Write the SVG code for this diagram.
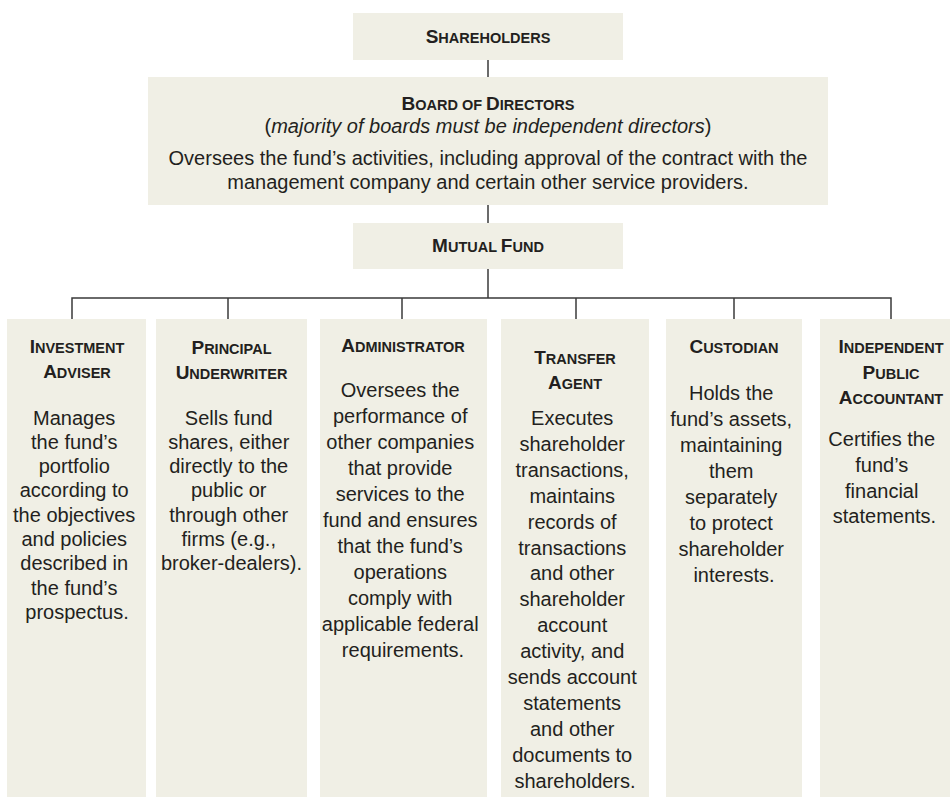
<svg xmlns="http://www.w3.org/2000/svg" width="952" height="798" viewBox="0 0 952 798">
  <style>
    .box { fill: #f0efe5; }
    .wire { stroke: #3a3a3a; stroke-width: 1.5; fill: none; }
    text { font-family: "Liberation Sans", Arial, Helvetica, sans-serif; fill: #231f20; text-anchor: middle; }
    .hd { font-size: 14.5px; font-weight: bold; }
    .cap { font-size: 19px; }
    .body { font-size: 20px; }
    .it { font-style: italic; }
  </style>

  <!-- connectors -->
  <g id="connectors">
    <path class="wire" d="M488 60 V77"/>
    <path class="wire" d="M488 205 V223"/>
    <path class="wire" d="M488 269 V298"/>
    <path class="wire" d="M72 319 V298 H891 V319"/>
    <path class="wire" d="M228 298 V319"/>
    <path class="wire" d="M402 298 V319"/>
    <path class="wire" d="M576 298 V319"/>
    <path class="wire" d="M734 298 V319"/>
  </g>

  <g id="shareholders">
    <rect class="box" x="353" y="13" width="270" height="47"/>
    <text class="hd" x="488" y="42.5"><tspan class="cap">S</tspan>HAREHOLDERS</text>
  </g>

  <g id="board">
    <rect class="box" x="148" y="77" width="680" height="128"/>
    <text class="hd" x="488" y="110"><tspan class="cap">B</tspan>OARD OF <tspan class="cap">D</tspan>IRECTORS</text>
    <text class="body" x="488" y="133">(<tspan class="it">majority of boards must be independent directors</tspan>)</text>
    <text class="body" x="488" y="165">Oversees the fund’s activities, including approval of the contract with the</text>
    <text class="body" x="488" y="189">management company and certain other service providers.</text>
  </g>

  <g id="mutual-fund">
    <rect class="box" x="353" y="223" width="270" height="46"/>
    <text class="hd" x="488" y="252"><tspan class="cap">M</tspan>UTUAL <tspan class="cap">F</tspan>UND</text>
  </g>

  <g id="investment-adviser">
    <rect class="box" x="7" y="319" width="139" height="478"/>
    <text class="hd" x="77" y="353"><tspan class="cap">I</tspan>NVESTMENT</text>
    <text class="hd" x="77" y="378"><tspan class="cap">A</tspan>DVISER</text>
    <text class="body" x="77">
      <tspan x="77" y="424.5">Manages</tspan>
      <tspan x="77" y="448.8">the fund’s</tspan>
      <tspan x="77" y="473.1">portfolio</tspan>
      <tspan x="77" y="497.4">according to</tspan>
      <tspan x="77" y="521.7">the objectives</tspan>
      <tspan x="77" y="546">and policies</tspan>
      <tspan x="77" y="570.3">described in</tspan>
      <tspan x="77" y="594.6">the fund’s</tspan>
      <tspan x="77" y="618.9">prospectus.</tspan>
    </text>
  </g>

  <g id="principal-underwriter">
    <rect class="box" x="156" y="319" width="151" height="478"/>
    <text class="hd" x="231.5" y="354"><tspan class="cap">P</tspan>RINCIPAL</text>
    <text class="hd" x="231.5" y="379"><tspan class="cap">U</tspan>NDERWRITER</text>
    <text class="body">
      <tspan x="231.5" y="424.5">Sells fund</tspan>
      <tspan x="231.5" y="448.8">shares, either</tspan>
      <tspan x="231.5" y="473.1">directly to the</tspan>
      <tspan x="231.5" y="497.4">public or</tspan>
      <tspan x="231.5" y="521.7">through other</tspan>
      <tspan x="231.5" y="546">firms (e.g.,</tspan>
      <tspan x="231.5" y="570.3">broker-dealers).</tspan>
    </text>
  </g>

  <g id="administrator">
    <rect class="box" x="320" y="319" width="167" height="478"/>
    <text class="hd" x="403" y="352"><tspan class="cap">A</tspan>DMINISTRATOR</text>
    <text class="body">
      <tspan x="403" y="397">Oversees the</tspan>
      <tspan x="403" y="423">performance of</tspan>
      <tspan x="403" y="449">other companies</tspan>
      <tspan x="403" y="475">that provide</tspan>
      <tspan x="403" y="501">services to the</tspan>
      <tspan x="403" y="527">fund and ensures</tspan>
      <tspan x="403" y="553">that the fund’s</tspan>
      <tspan x="403" y="579">operations</tspan>
      <tspan x="403" y="605">comply with</tspan>
      <tspan x="403" y="631">applicable federal</tspan>
      <tspan x="403" y="657">requirements.</tspan>
    </text>
  </g>

  <g id="transfer-agent">
    <rect class="box" x="501" y="319" width="148" height="478"/>
    <text class="hd" x="575" y="364"><tspan class="cap">T</tspan>RANSFER</text>
    <text class="hd" x="575" y="389"><tspan class="cap">A</tspan>GENT</text>
    <text class="body">
      <tspan x="575" y="425">Executes</tspan>
      <tspan x="575" y="450.9">shareholder</tspan>
      <tspan x="575" y="476.8">transactions,</tspan>
      <tspan x="575" y="502.7">maintains</tspan>
      <tspan x="575" y="528.6">records of</tspan>
      <tspan x="575" y="554.5">transactions</tspan>
      <tspan x="575" y="580.4">and other</tspan>
      <tspan x="575" y="606.3">shareholder</tspan>
      <tspan x="575" y="632.2">account</tspan>
      <tspan x="575" y="658.1">activity, and</tspan>
      <tspan x="575" y="684">sends account</tspan>
      <tspan x="575" y="709.9">statements</tspan>
      <tspan x="575" y="735.8">and other</tspan>
      <tspan x="575" y="761.7">documents to</tspan>
      <tspan x="575" y="787.6">shareholders.</tspan>
    </text>
  </g>

  <g id="custodian">
    <rect class="box" x="666" y="319" width="136" height="478"/>
    <text class="hd" x="734" y="353"><tspan class="cap">C</tspan>USTODIAN</text>
    <text class="body">
      <tspan x="734" y="400">Holds the</tspan>
      <tspan x="734" y="426">fund’s assets,</tspan>
      <tspan x="734" y="452">maintaining</tspan>
      <tspan x="734" y="478">them</tspan>
      <tspan x="734" y="504">separately</tspan>
      <tspan x="734" y="530">to protect</tspan>
      <tspan x="734" y="556">shareholder</tspan>
      <tspan x="734" y="582">interests.</tspan>
    </text>
  </g>

  <g id="independent-public-accountant">
    <rect class="box" x="820" y="319" width="130" height="478"/>
    <text class="hd" x="891" y="353"><tspan class="cap">I</tspan>NDEPENDENT</text>
    <text class="hd" x="891" y="379"><tspan class="cap">P</tspan>UBLIC</text>
    <text class="hd" x="891" y="404"><tspan class="cap">A</tspan>CCOUNTANT</text>
    <text class="body">
      <tspan x="884.5" y="446">Certifies the</tspan>
      <tspan x="884.5" y="472">fund’s</tspan>
      <tspan x="884.5" y="497.5">financial</tspan>
      <tspan x="884.5" y="523">statements.</tspan>
    </text>
  </g>
</svg>
